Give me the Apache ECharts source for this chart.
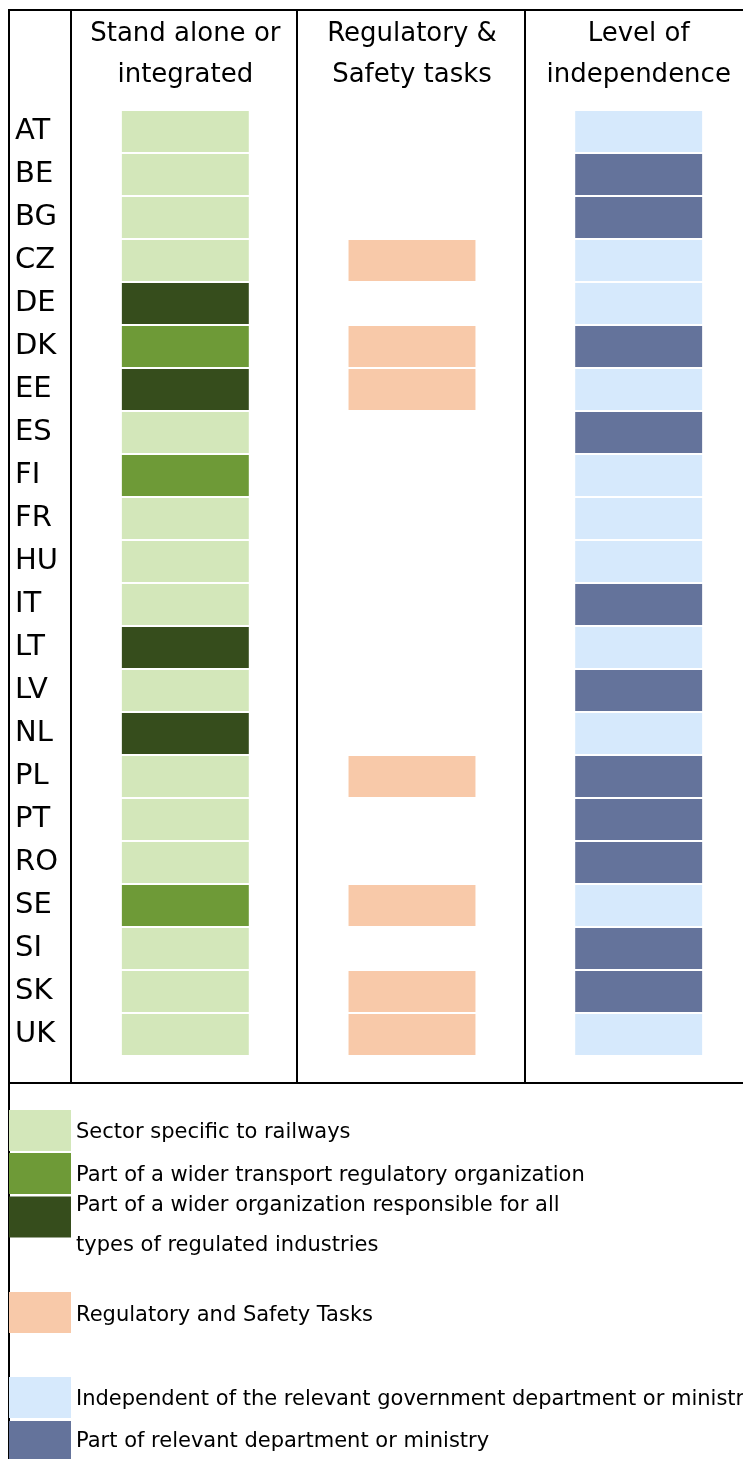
<!DOCTYPE html>
<html>
<head>
<meta charset="utf-8">
<script src="https://cdn.jsdelivr.net/npm/echarts@6/dist/echarts.min.js"></script>
<style>
html,body{margin:0;padding:0;background:#fff;}
#chart{width:743px;height:1459px;}
</style>
</head>
<body>
<div id="chart"></div>
<script>
// ---- data ----
const countries = ['AT','BE','BG','CZ','DE','DK','EE','ES','FI','FR','HU','IT','LT','LV','NL','PL','PT','RO','SE','SI','SK','UK'];
const columns = ['Stand alone or\nintegrated', 'Regulatory &\nSafety tasks', 'Level of\nindependence'];
// 1 = sector specific to railways, 2 = wider transport regulator, 3 = all regulated industries
const orgType = [1,1,1,1,3,2,3,1,2,1,1,1,3,1,3,1,1,1,2,1,1,1];
// 1 = regulatory and safety tasks combined
const safetyTasks = [0,0,0,1,0,1,1,0,0,0,0,0,0,0,0,1,0,0,1,0,1,1];
// 1 = independent of ministry, 2 = part of ministry
const independence = [1,2,2,1,1,2,1,2,1,1,1,2,1,2,1,2,2,2,1,2,2,1];
const categoryNames = [
  'Sector specific to railways',
  'Part of a wider transport regulatory organization',
  'Part of a wider organization responsible for all types of regulated industries',
  'Regulatory and Safety Tasks',
  'Independent of the relevant government department or ministry',
  'Part of relevant department or ministry'
];
const legendLabels = [
  'Sector specific to railways',
  'Part of a wider transport regulatory organization',
  'Part of a wider organization responsible for all\ntypes of regulated industries',
  'Regulatory and Safety Tasks',
  'Independent of the relevant government department or ministry',
  'Part of relevant department or ministry'
];
const categoryColors = ['#D3E7BA','#6E9A37','#364D1C','#F8C9A9','#D6E9FC','#64739B'];

// ---- build series ----
function pick(arr, code, col) {
  const out = [];
  arr.forEach((v, i) => { if (v === code) out.push([col, i]); });
  return out;
}
const seriesData = [
  pick(orgType, 1, 0), pick(orgType, 2, 0), pick(orgType, 3, 0),
  pick(safetyTasks, 1, 1),
  pick(independence, 1, 2), pick(independence, 2, 2)
];

const FONT = 'DejaVu Sans';

function renderCell(params, api) {
  const p = api.coord([api.value(0), api.value(1)]);
  const band = api.size([1, 1]);
  const w = band[0] * 0.56;
  const h = band[1] - 2;
  return {
    type: 'rect',
    shape: { x: p[0] - w / 2, y: p[1] - h / 2, width: w, height: h },
    style: { fill: api.visual('color') }
  };
}

const series = categoryNames.map((name, k) => ({
  name: name,
  type: 'custom',
  renderItem: renderCell,
  itemStyle: { color: categoryColors[k] },
  data: seriesData[k],
  encode: { x: 0, y: 1 },
  silent: true
}));

// legend layout (pixels)
const legendTops = [1110, 1153, 1176, 1292, 1377, 1421];
const legendShift = [5, 5, 17, 6, 5, 0];   // spacer line above the text
const legendLineH = [24, 24, 40, 24, 24, 24];

const legends = categoryNames.map((name, k) => ({
  data: [name],
  left: 9,
  top: legendTops[k],
  orient: 'vertical',
  padding: 0,
  itemWidth: 62,
  itemHeight: 41,
  icon: 'rect',
  selectedMode: false,
  formatter: function () {
    const lines = legendLabels[k].split('\n').map(s => '{t|' + s + '}');
    if (legendShift[k] > 0) lines.unshift('{e| }');
    return lines.join('\n');
  },
  textStyle: {
    fontFamily: FONT,
    fontSize: 21,
    color: '#000',
    rich: {
      e: { fontSize: 2, lineHeight: legendShift[k] },
      t: { fontFamily: FONT, fontSize: 21, color: '#000', lineHeight: legendLineH[k] }
    }
  }
}));

function vline(x, y1, y2) {
  return { type: 'line', shape: { x1: x, y1: y1, x2: x, y2: y2 }, style: { stroke: '#000', lineWidth: 2 }, silent: true };
}
function hline(y, x1, x2) {
  return { type: 'line', shape: { x1: x1, y1: y, x2: x2, y2: y }, style: { stroke: '#000', lineWidth: 2 }, silent: true };
}

const chart = echarts.init(document.getElementById('chart'), null, { renderer: 'canvas' });
chart.setOption({
  animation: false,
  backgroundColor: '#fff',
  grid: { left: 72, top: 110, width: 680, height: 946, outerBoundsMode: 'none' },
  xAxis: {
    type: 'category',
    position: 'top',
    data: columns,
    axisLine: { show: false },
    axisTick: { show: false },
    splitLine: { show: false },
    axisLabel: { fontFamily: FONT, fontSize: 26, lineHeight: 41, color: '#000', margin: 14, interval: 0 }
  },
  yAxis: {
    type: 'category',
    inverse: true,
    data: countries,
    axisLine: { show: false },
    axisTick: { show: false },
    splitLine: { show: false },
    axisLabel: { fontFamily: FONT, fontSize: 29, color: '#000', align: 'left', margin: 57, interval: 0 }
  },
  legend: legends,
  series: series,
  graphic: [
    hline(10, 8, 743),
    vline(9, 9, 1459),
    vline(71, 10, 1083),
    vline(297, 10, 1083),
    vline(525, 10, 1083),
    hline(1083, 9, 743)
  ]
});
</script>
</body>
</html>
